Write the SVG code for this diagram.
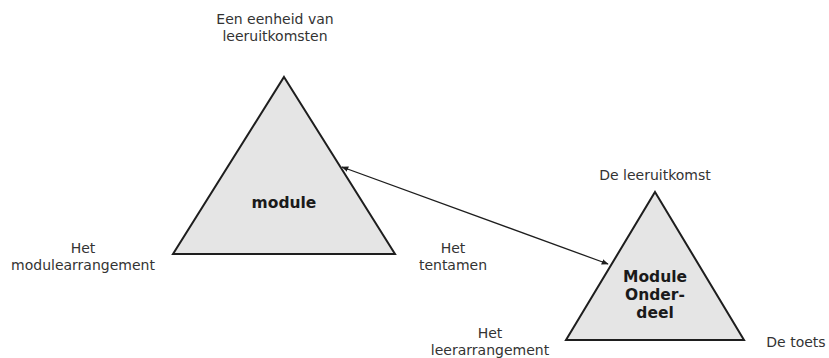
<svg xmlns="http://www.w3.org/2000/svg" width="829" height="358" viewBox="0 0 829 358">
<style>
.tri{fill:#e5e5e5;stroke:#1e1e1e;stroke-width:2;stroke-linejoin:miter}
.lbl{font-family:"DejaVu Sans",Verdana,sans-serif;font-size:14px;fill:#333;text-anchor:middle}
.bold{font-family:"DejaVu Sans",Verdana,sans-serif;font-size:15.5px;font-weight:bold;fill:#1a1a1a;text-anchor:middle}
.conn{stroke:#1e1e1e;stroke-width:1.3;fill:none}
</style>
<defs>
<marker id="ah" viewBox="0 0 10 10" refX="9" refY="5" markerWidth="7" markerHeight="7" orient="auto-start-reverse" markerUnits="userSpaceOnUse">
<path d="M0,1 L10,5 L0,9 z" fill="#1e1e1e"/>
</marker>
</defs>
<rect width="829" height="358" fill="#fff"/>
<g id="module">
<polygon class="tri" points="284,77 395,254 173,254"/>
<text class="bold" x="284" y="208">module</text>
</g>
<g id="module-onderdeel">
<polygon class="tri" points="655,192 744,340 566,340"/>
<text class="bold" x="655" y="282">Module</text>
<text class="bold" x="655" y="300">Onder-</text>
<text class="bold" x="655" y="318">deel</text>
</g>
<g id="labels">
<text class="lbl" x="275" y="24">Een eenheid van</text>
<text class="lbl" x="275" y="41">leeruitkomsten</text>
<text class="lbl" x="83" y="253">Het</text>
<text class="lbl" x="83" y="270">modulearrangement</text>
<text class="lbl" x="453" y="253">Het</text>
<text class="lbl" x="453" y="270">tentamen</text>
<text class="lbl" x="655" y="180">De leeruitkomst</text>
<text class="lbl" x="490" y="338">Het</text>
<text class="lbl" x="490" y="355">leerarrangement</text>
<text class="lbl" x="796" y="347">De toets</text>
</g>
<g id="connectors">
<line class="conn" x1="342" y1="167" x2="608" y2="264" marker-start="url(#ah)" marker-end="url(#ah)"/>
</g>
</svg>
